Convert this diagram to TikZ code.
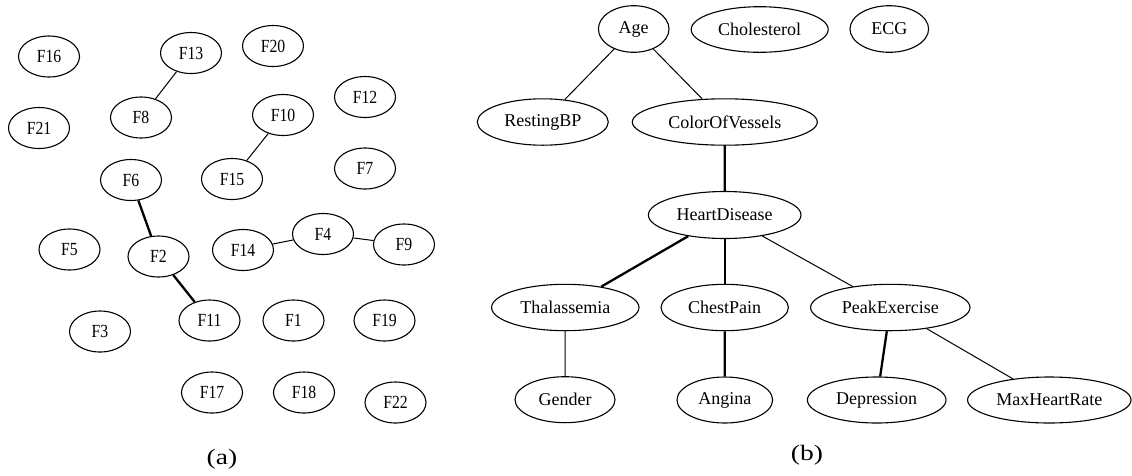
\documentclass[tikz,border=0pt]{standalone}
\usepackage{fontspec}
\setmainfont{Liberation Serif}
\usetikzlibrary{shapes.geometric}
\newcommand{\fa}[1]{\scalebox{0.85}[1]{#1}}
\newcommand{\capl}[1]{\scalebox{1.25}[1]{#1}}
\tikzset{
  fnode/.style={ellipse,draw,line width=1.1pt,inner sep=0pt,minimum width=61pt,minimum height=41pt,
    font=\fontsize{18.5}{20}\selectfont},
  bnode/.style={ellipse,draw,line width=1.1pt,inner sep=0pt,minimum height=46.4pt,
    font=\fontsize{18}{20}\selectfont},
  thin edge/.style={line width=1pt},
  thick edge/.style={line width=2.3pt},
  caption/.style={inner sep=0pt,font=\fontsize{22}{24}\selectfont}
}
\begin{document}
\begin{tikzpicture}[x=1pt,y=-1pt]
\useasboundingbox (0,0) rectangle (1132,475);
% ---------- (a)
\node[fnode] (F16) at (49,56.5) {\fa{F16}};
\node[fnode] (F13) at (191,53) {\fa{F13}};
\node[fnode] (F20) at (273,46) {\fa{F20}};
\node[fnode] (F12) at (365,97) {\fa{F12}};
\node[fnode] (F8) at (141,117.5) {\fa{F8}};
\node[fnode] (F21) at (39,128) {\fa{F21}};
\node[fnode] (F10) at (283,115) {\fa{F10}};
\node[fnode] (F15) at (232,179) {\fa{F15}};
\node[fnode] (F7) at (365,168.5) {\fa{F7}};
\node[fnode] (F6) at (131,180) {\fa{F6}};
\node[fnode] (F4) at (323,234) {\fa{F4}};
\node[fnode] (F9) at (404,244.5) {\fa{F9}};
\node[fnode] (F14) at (243,250) {\fa{F14}};
\node[fnode] (F5) at (69.5,249.5) {\fa{F5}};
\node[fnode] (F2) at (158.5,256.5) {\fa{F2}};
\node[fnode] (F11) at (209.5,320.5) {\fa{F11}};
\node[fnode] (F1) at (293.5,320.5) {\fa{F1}};
\node[fnode] (F19) at (384.5,320.5) {\fa{F19}};
\node[fnode] (F3) at (100,331.5) {\fa{F3}};
\node[fnode] (F17) at (212,392.5) {\fa{F17}};
\node[fnode] (F18) at (304,392.5) {\fa{F18}};
\node[fnode] (F22) at (395.5,402.5) {\fa{F22}};
\draw[thin edge] (F13) -- (F8);
\draw[thin edge] (F10) -- (F15);
\draw[thick edge] (F6) -- (F2);
\draw[thick edge] (F2) -- (F11);
\draw[thin edge] (F14) -- (F4);
\draw[thin edge] (F4) -- (F9);
\node[caption] (capa) at (222,459.5) {\capl{(a)}};
% ---------- (b)
\node[bnode,minimum width=70.6pt,minimum height=46.6pt] (Age) at (633.7,29) {Age};
\node[bnode,minimum width=137pt,minimum height=45.6pt] (Chol) at (759.7,29.5) {Cholesterol};
\node[bnode,minimum width=78.6pt,minimum height=46.6pt] (ECG) at (889.3,29) {ECG};
\node[bnode,minimum width=131pt] (RBP) at (542.8,122) {RestingBP};
\node[bnode,minimum width=185pt] (COV) at (724.8,122) {ColorOfVessels};
\node[bnode,minimum width=152.6pt,minimum height=47pt] (HD) at (724.7,215) {HeartDisease};
\node[bnode,minimum width=147.4pt] (Thal) at (565.3,307.5) {Thalassemia};
\node[bnode,minimum width=127.4pt] (CP) at (724.7,307.5) {ChestPain};
\node[bnode,minimum width=159.4pt] (PE) at (890.3,307.5) {PeakExercise};
\node[bnode,minimum width=100pt,minimum height=46pt] (Gen) at (565,399.7) {Gender};
\node[bnode,minimum width=95.6pt,minimum height=46pt] (Ang) at (724.8,400) {Angina};
\node[bnode,minimum width=138.6pt,minimum height=46pt] (Dep) at (876.7,400) {Depression};
\node[bnode,minimum width=163.5pt,minimum height=46pt] (MHR) at (1049.3,400) {MaxHeartRate};
\draw[thin edge] (Age) -- (RBP);
\draw[thin edge] (Age) -- (COV);
\draw[thick edge] (COV) -- (HD);
\draw[thick edge] (HD) -- (Thal);
\draw[thick edge] (HD) -- (CP);
\draw[thin edge] (HD) -- (PE);
\draw[thin edge] (Thal) -- (Gen);
\draw[thick edge] (CP) -- (Ang);
\draw[thick edge] (PE) -- (Dep);
\draw[thin edge] (PE) -- (MHR);
\node[caption] (capb) at (807,455.5) {\capl{(b)}};
\end{tikzpicture}
\end{document}
